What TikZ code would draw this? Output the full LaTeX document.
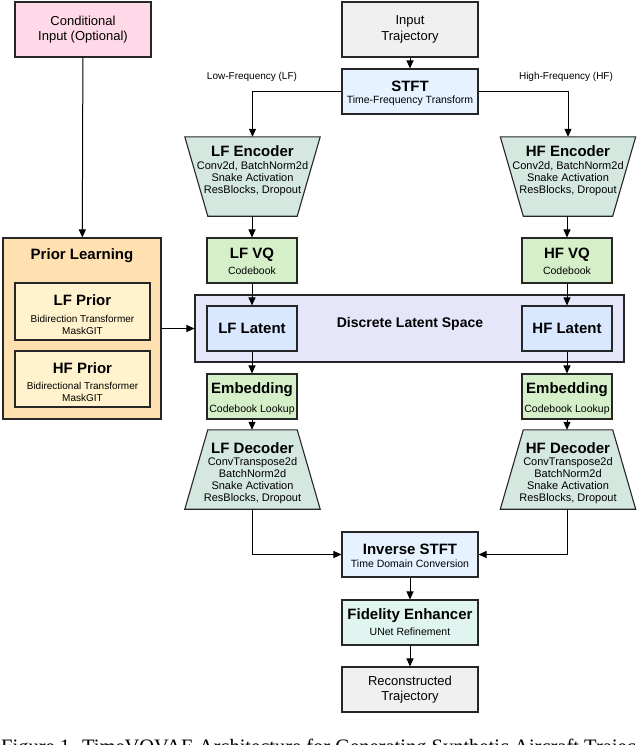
\documentclass[tikz,border=0pt]{standalone}
\usepackage{fontspec}
\setmainfont{Liberation Sans}
\newfontfamily\capfont{Liberation Serif}
\usetikzlibrary{arrows.meta}
\definecolor{cpink}{HTML}{FFD9E8}
\definecolor{cgray}{HTML}{F0F0F0}
\definecolor{cblue}{HTML}{E6F2FF}
\definecolor{cenc}{HTML}{D5E8E0}
\definecolor{cvq}{HTML}{D5F0C8}
\definecolor{cspace}{HTML}{E6E6FA}
\definecolor{clat}{HTML}{D9E8FF}
\definecolor{cfid}{HTML}{E0F5F0}
\definecolor{cprior}{HTML}{FFE0B0}
\definecolor{cpin}{HTML}{FFF2CC}
\begin{document}
\begin{tikzpicture}[x=1pt,y=-1pt,
  box/.style={draw=black!85,line width=1.1pt,inner sep=0pt,align=center,minimum width=#1},
  box/.default=136pt,
  trap/.style={inner sep=0pt,minimum width=135pt,minimum height=79pt},
  tline/.style={draw=black!85,line width=1.1pt,fill=cenc},
  ar/.style={line width=1pt,-{Triangle[length=8pt,width=7pt]}},
  t/.style={font=\bfseries\fontsize{15}{17}\selectfont},
  s/.style={font=\fontsize{10.5}{11.5}\selectfont},
  m/.style={align=center,font=\fontsize{11}{12}\selectfont}]
\useasboundingbox (0,0) rectangle (640,745);
% left column
\node[box,fill=cpink,minimum height=55pt,font=\fontsize{13}{15.5}\selectfont] (cond) at (83,29.5) {Conditional\\Input (Optional)};
\node[box=158pt,fill=cprior,minimum height=181pt] (prior) at (82,328.5) {};
\node[t] (pt) at (82,256) {Prior Learning};
\node[box=135pt,fill=cpin,minimum height=57pt] (lfp) at (82.5,311.5) {};
\node[t] (lfpt) at (82.5,300) {LF Prior};
\node[align=center,font=\fontsize{10}{11.5}\selectfont] (lfps) at (82.5,325) {Bidirection Transformer\\MaskGIT};
\node[box=135pt,fill=cpin,minimum height=56pt] (hfp) at (82.5,379) {};
\node[t] (hfpt) at (82.5,368) {HF Prior};
\node[align=center,font=\fontsize{10}{11.5}\selectfont] (hfps) at (82.5,392) {Bidirectional Transformer\\MaskGIT};
% center
\node[box,fill=cgray,minimum height=55pt,font=\fontsize{13}{15.5}\selectfont] (in) at (410,29.5) {Input\\Trajectory};
\node[box,fill=cblue,minimum height=45pt] (stft) at (410,91.5) {};
\node[t] (stftt) at (410,86) {STFT};
\node[s] (stfts) at (410,101) {Time-Frequency Transform};
\node[font=\fontsize{10}{11}\selectfont] (llab) at (252,77) {Low-Frequency (LF)};
\node[font=\fontsize{10}{11}\selectfont] (hlab) at (566,77) {High-Frequency (HF)};
% encoders
\node[trap] (lenc) at (252.5,176.5) {};
\node[trap] (henc) at (568,176.5) {};
\foreach \n in {lenc,henc}{
  \path[tline] (\n.north west) -- (\n.north east) -- ([xshift=-23pt]\n.south east) -- ([xshift=23pt]\n.south west) -- cycle;
}
\node[t] (lenct) at (252.5,151) {LF Encoder};
\node[t] (henct) at (568,151) {HF Encoder};
\node[m] (lencs) at (252.5,179) {Conv2d, BatchNorm2d\\Snake Activation\\ResBlocks, Dropout};
\node[m] (hencs) at (568,179) {Conv2d, BatchNorm2d\\Snake Activation\\ResBlocks, Dropout};
% VQ
\node[box=90pt,fill=cvq,minimum height=45pt] (lvq) at (252,260.5) {};
\node[t] (lvqt) at (252,255) {LF VQ};
\node[s] (lvqs) at (252,271) {Codebook};
\node[box=90pt,fill=cvq,minimum height=45pt] (hvq) at (567,260.5) {};
\node[t] (hvqt) at (567,255) {HF VQ};
\node[s] (hvqs) at (567,271) {Codebook};
% latent space
\node[box=429pt,fill=cspace,minimum height=67pt] (space) at (409.5,328.5) {};
\node[font=\bfseries\fontsize{14}{16}\selectfont] (spt) at (410,324) {Discrete Latent Space};
\node[box=90pt,fill=clat,minimum height=45pt,t] (llat) at (252,328.5) {LF Latent};
\node[box=90pt,fill=clat,minimum height=45pt,t] (hlat) at (567,328.5) {HF Latent};
% embedding
\node[box=90pt,fill=cvq,minimum height=45pt] (lemb) at (252,396.5) {};
\node[t] (lembt) at (252,390) {Embedding};
\node[s] (lembs) at (252,409.5) {Codebook Lookup};
\node[box=90pt,fill=cvq,minimum height=45pt] (hemb) at (567,396.5) {};
\node[t] (hembt) at (567,390) {Embedding};
\node[s] (hembs) at (567,409.5) {Codebook Lookup};
% decoders
\node[trap] (ldec) at (252.5,469.5) {};
\node[trap] (hdec) at (568,469.5) {};
\foreach \n in {ldec,hdec}{
  \path[tline] ([xshift=23pt]\n.north west) -- ([xshift=-23pt]\n.north east) -- (\n.south east) -- (\n.south west) -- cycle;
}
\node[t] (ldect) at (252.5,448) {LF Decoder};
\node[t] (hdect) at (568,448) {HF Decoder};
\node[m] (ldecs) at (252.5,481) {ConvTranspose2d\\BatchNorm2d\\Snake Activation\\ResBlocks, Dropout};
\node[m] (hdecs) at (568,481) {ConvTranspose2d\\BatchNorm2d\\Snake Activation\\ResBlocks, Dropout};
% bottom chain
\node[box,fill=cblue,minimum height=45pt] (istft) at (410,554.5) {};
\node[t] (istftt) at (410,549) {Inverse STFT};
\node[s] (istfts) at (410,564) {Time Domain Conversion};
\node[box,fill=cfid,minimum height=45pt] (fid) at (410,622.5) {};
\node[t] (fidt) at (410,616) {Fidelity Enhancer};
\node[s] (fids) at (410,632) {UNet Refinement};
\node[box,fill=cgray,minimum height=45pt,font=\fontsize{13}{15.5}\selectfont] (rec) at (410,689.5) {Reconstructed\\Trajectory};
% caption (cut off as in the reference)
\node[anchor=base west,inner sep=0pt,font=\capfont\fontsize{20.5}{22}\selectfont] (cap) at (1,753) {Figure 1. TimeVQVAE Architecture for Generating Synthetic Aircraft Trajec-};
% connectors
\draw[ar] (cond) -- (prior);
\draw[ar] (in) -- (stft);
\draw[ar] (stft.west) -| (lenc.north);
\draw[ar] (stft.east) -| (henc.north);
\draw[ar] ([xshift=-0.5pt]lenc.south) -- (lvq.north);
\draw[ar] ([xshift=-1pt]henc.south) -- (hvq.north);
\draw[ar] (lvq.south) -- (llat.north);
\draw[ar] (hvq.south) -- (hlat.north);
\draw[ar] (prior.east |- space.west) -- (space.west);
\draw[ar] (llat.south) -- (lemb.north);
\draw[ar] (hlat.south) -- (hemb.north);
\draw[ar] (lemb.south) -- ([xshift=-0.5pt]ldec.north);
\draw[ar] (hemb.south) -- ([xshift=-1pt]hdec.north);
\draw[ar] ([xshift=-0.5pt]ldec.south) |- (istft.west);
\draw[ar] ([xshift=-1pt]hdec.south) |- (istft.east);
\draw[ar] (istft) -- (fid);
\draw[ar] (fid) -- (rec);
\end{tikzpicture}
\end{document}
